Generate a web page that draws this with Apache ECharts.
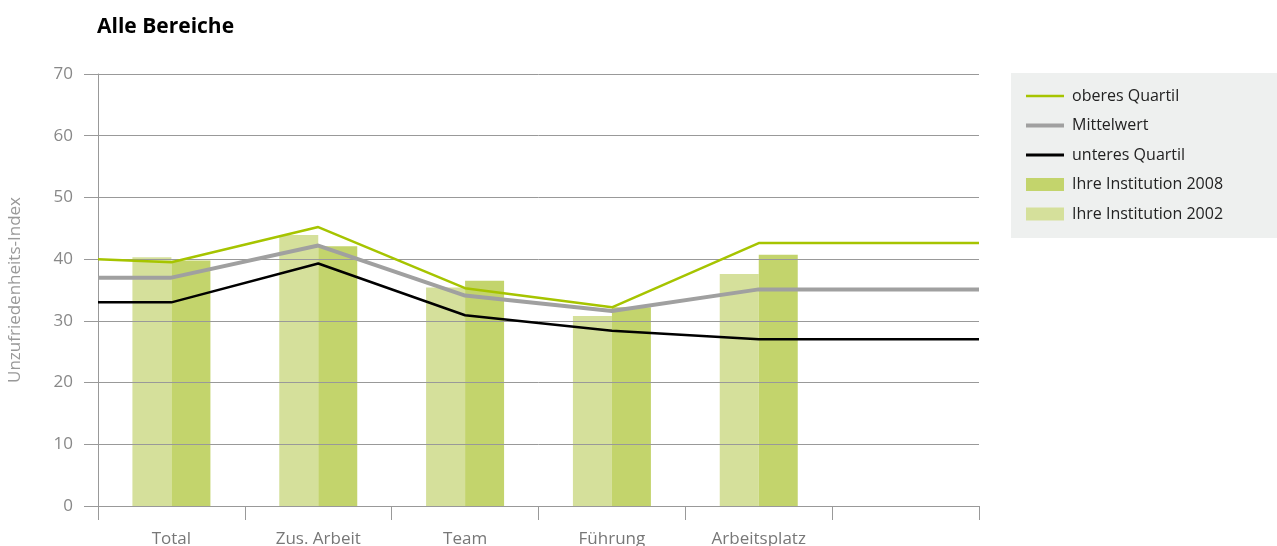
<!DOCTYPE html>
<html>
<head>
<meta charset="utf-8">
<script src="https://cdn.jsdelivr.net/npm/echarts@6/dist/echarts.min.js"></script>
<style>
  html, body { margin: 0; padding: 0; background: #fff; }
  #chart { width: 1277px; height: 546px; }
</style>
</head>
<body>
<div id="chart"></div>
<script>
// Categories (the last slot is an empty column)
const categories = ['Total', 'Zus. Arbeit', 'Team', 'Führung', 'Arbeitsplatz', ''];

// Bar values per category
const inst2002 = [40.3, 43.9, 35.4, 30.8, 37.6, null];
const inst2008 = [39.8, 42.1, 36.5, 32.2, 40.7, null];

// Reference lines: positions along the category axis (0 = left edge, 6 = right edge)
const lineX = [0, 0.5, 1.5, 2.5, 3.5, 4.5, 6];
const oberesQuartil = [40.0, 39.5, 45.2, 35.3, 32.2, 42.6, 42.6];
const mittelwert = [37.0, 37.0, 42.2, 34.1, 31.6, 35.1, 35.1];
const unteresQuartil = [33.0, 33.0, 39.3, 30.9, 28.4, 27.0, 27.0];

const yTicks = { min: 0, max: 70, interval: 10 };

const FONT = '"Open Sans", "Noto Sans", sans-serif';
const C_UPPER = '#a6c400';
const C_MEAN = '#a0a0a0';
const C_LOWER = '#000000';
const C_2008 = '#c3d46c';
const C_2002 = '#d5e09b';

const pairs = (xs, ys) => xs.map((x, i) => [x, ys[i]]);

const chart = echarts.init(document.getElementById('chart'), null, { renderer: 'canvas' });

chart.setOption({
  animation: false,
  backgroundColor: '#ffffff',
  textStyle: { fontFamily: FONT },
  title: {
    text: 'Alle Bereiche',
    left: 92, top: 12,
    textStyle: { fontFamily: FONT, fontWeight: 'bold', fontSize: 21, color: '#000' }
  },
  graphic: [{
    type: 'rect',
    left: 1011, top: 73,
    shape: { width: 266, height: 165 },
    style: { fill: '#eef0ef' },
    z: -1
  }],
  legend: {
    orient: 'vertical',
    left: 1026, top: 88,
    padding: 0,
    itemWidth: 38, itemHeight: 13,
    itemGap: 13.5,
    textStyle: { fontFamily: FONT, fontSize: 16, color: '#222', padding: [0, 0, 0, 3] },
    data: [
      { name: 'oberes Quartil', icon: 'path://M0,0H38V2.6H0Z', itemStyle: { color: C_UPPER, borderWidth: 0 } },
      { name: 'Mittelwert', icon: 'path://M0,0H38V4H0Z', itemStyle: { color: C_MEAN, borderWidth: 0 } },
      { name: 'unteres Quartil', icon: 'path://M0,0H38V2.8H0Z', itemStyle: { color: C_LOWER, borderWidth: 0 } },
      { name: 'Ihre Institution 2008', icon: 'rect', itemStyle: { color: C_2008, borderWidth: 0 } },
      { name: 'Ihre Institution 2002', icon: 'rect', itemStyle: { color: C_2002, borderWidth: 0 } }
    ]
  },
  grid: { left: 98, right: 298, top: 74, bottom: 40, containLabel: false, outerBoundsMode: 'none' },
  xAxis: [{
    type: 'category',
    data: categories,
    axisLine: { show: true, lineStyle: { color: '#999', width: 1 } },
    axisTick: { show: true, length: 14, lineStyle: { color: '#999' } },
    axisLabel: { fontFamily: FONT, fontSize: 17, color: '#777', margin: 25, interval: 0 },
    splitLine: { show: false }
  }, {
    type: 'value',
    min: 0, max: 6,
    show: false
  }],
  yAxis: {
    type: 'value',
    min: yTicks.min, max: yTicks.max, interval: yTicks.interval,
    z: 3,
    name: 'Unzufriedenheits-Index',
    nameLocation: 'middle',
    nameGap: 74,
    nameTextStyle: { fontFamily: FONT, fontSize: 17, color: '#999' },
    axisLine: { show: true, lineStyle: { color: '#999', width: 1 } },
    axisTick: { show: true, length: 14, lineStyle: { color: '#999' } },
    axisLabel: { fontFamily: FONT, fontSize: 17, color: '#888', margin: 25 },
    splitLine: { show: true, lineStyle: { color: '#999', width: 1 } }
  },
  series: [
    {
      name: 'Ihre Institution 2002', type: 'bar', data: inst2002,
      barWidth: 39, barGap: '0%',
      itemStyle: { color: C_2002 }, z: 2
    },
    {
      name: 'Ihre Institution 2008', type: 'bar', data: inst2008,
      barWidth: 39, barGap: '0%',
      itemStyle: { color: C_2008 }, z: 2
    },
    {
      name: 'unteres Quartil', type: 'line', xAxisIndex: 1,
      data: pairs(lineX, unteresQuartil),
      symbol: 'none', showSymbol: false,
      lineStyle: { color: C_LOWER, width: 2.5 }, itemStyle: { color: C_LOWER }, z: 5
    },
    {
      name: 'Mittelwert', type: 'line', xAxisIndex: 1,
      data: pairs(lineX, mittelwert),
      symbol: 'none', showSymbol: false,
      lineStyle: { color: C_MEAN, width: 4 }, itemStyle: { color: C_MEAN }, z: 5
    },
    {
      name: 'oberes Quartil', type: 'line', xAxisIndex: 1,
      data: pairs(lineX, oberesQuartil),
      symbol: 'none', showSymbol: false,
      lineStyle: { color: C_UPPER, width: 2.5 }, itemStyle: { color: C_UPPER }, z: 5
    }
  ]
});
</script>
</body>
</html>
